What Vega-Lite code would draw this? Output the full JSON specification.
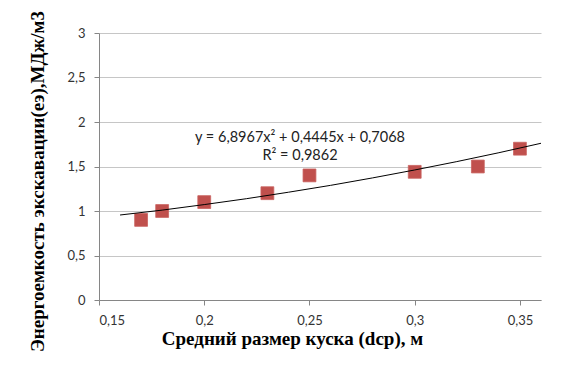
{
  "$schema": "https://vega.github.io/schema/vega-lite/v6.json",
  "width": 442,
  "height": 267,
  "autosize": {"type": "none"},
  "padding": {"left": 99, "top": 33, "right": 35, "bottom": 65},
  "background": "white",
  "config": {"view": {"stroke": null}, "font": "Lato"},
  "datasets": {
    "points": [
      {"x": 0.17, "y": 0.9},
      {"x": 0.18, "y": 1.0},
      {"x": 0.2, "y": 1.1},
      {"x": 0.23, "y": 1.2},
      {"x": 0.25, "y": 1.4},
      {"x": 0.3, "y": 1.44},
      {"x": 0.33, "y": 1.5},
      {"x": 0.35, "y": 1.7}
    ],
    "trend": [
      {"x": 0.16, "y": 0.955},
      {"x": 0.18, "y": 1.01},
      {"x": 0.2, "y": 1.072},
      {"x": 0.22, "y": 1.138},
      {"x": 0.24, "y": 1.211},
      {"x": 0.26, "y": 1.288},
      {"x": 0.28, "y": 1.372},
      {"x": 0.3, "y": 1.461},
      {"x": 0.32, "y": 1.555},
      {"x": 0.34, "y": 1.655},
      {"x": 0.36, "y": 1.761}
    ],
    "notes": [
      {"x": 0.2455, "y": 1.824, "label": "y = 6,8967x² + 0,4445x + 0,7068"},
      {"x": 0.2455, "y": 1.613, "label": "R² = 0,9862"}
    ]
  },
  "layer": [
    {
      "data": {"name": "points"},
      "mark": {"type": "square", "size": 165, "color": "#C0504D", "opacity": 1, "stroke": "#C9625F", "strokeWidth": 0.8},
      "encoding": {
        "x": {"field": "x", "type": "quantitative",
          "scale": {"domain": [0.15, 0.36], "nice": false, "zero": false},
          "axis": {"values": [0.15, 0.2, 0.25, 0.3, 0.35], "format": ".2~f",
            "labelExpr": "replace(datum.label, '.', ',')",
            "grid": false, "domainColor": "#868686", "tickColor": "#868686", "tickSize": 5,
            "labelFont": "Lato", "labelFontSize": 13, "labelColor": "#333333", "labelPadding": 9,
            "title": "Средний размер куска (dср),  м",
            "titleFont": "Liberation Serif", "titleFontWeight": "bold", "titleFontSize": 19, "titleColor": "#000000",
            "titleX": 193, "titleY": 44, "titleBaseline": "alphabetic", "titleAlign": "center"}},
        "y": {"field": "y", "type": "quantitative",
          "scale": {"domain": [0, 3], "nice": false},
          "axis": {"values": [0, 0.5, 1, 1.5, 2, 2.5, 3], "format": ".1~f",
            "labelExpr": "replace(datum.label, '.', ',')",
            "grid": true, "gridColor": "#C6C6C6", "domainColor": "#868686", "tickColor": "#868686", "tickSize": 5,
            "labelFont": "Lato", "labelFontSize": 13, "labelColor": "#333333", "labelPadding": 9,
            "title": "Энергоемкость  экскавации(eэ),МДж/м3",
            "titleFont": "Liberation Serif", "titleFontWeight": "bold", "titleFontSize": 19, "titleColor": "#000000",
            "titleX": -62, "titleY": 148, "titleBaseline": "middle", "titleAlign": "center", "titleAngle": -90}}
      }
    },
    {
      "data": {"name": "trend"},
      "mark": {"type": "line", "color": "#000000", "strokeWidth": 1, "interpolate": "monotone"},
      "encoding": {
        "x": {"field": "x", "type": "quantitative"},
        "y": {"field": "y", "type": "quantitative"}
      }
    },
    {
      "data": {"name": "notes"},
      "mark": {"type": "text", "font": "Lato", "fontSize": 14.5, "color": "#222222", "align": "center", "baseline": "middle"},
      "encoding": {
        "x": {"field": "x", "type": "quantitative"},
        "y": {"field": "y", "type": "quantitative"},
        "text": {"field": "label"}
      }
    }
  ]
}
